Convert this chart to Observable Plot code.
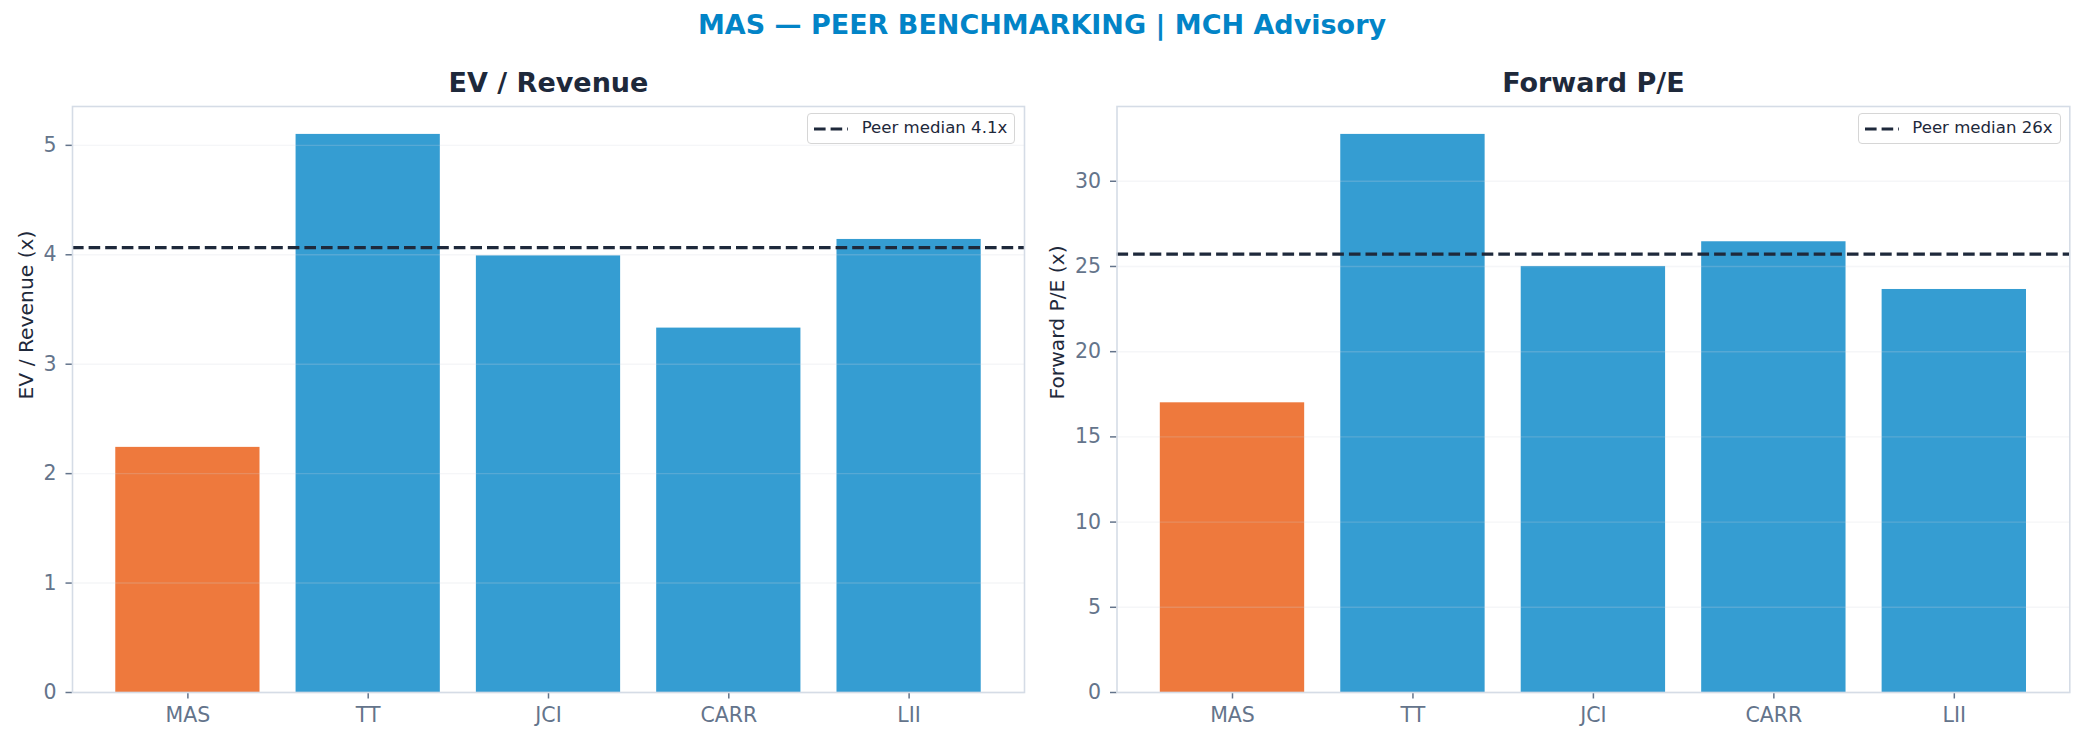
<!DOCTYPE html>
<html>
<head>
<meta charset="utf-8">
<script src="https://cdn.jsdelivr.net/npm/d3@7"></script>
<script src="https://cdn.jsdelivr.net/npm/@observablehq/plot@0.6"></script>
<style>
  html, body { margin: 0; padding: 0; background: #ffffff; }
  #wrap { position: relative; width: 2084px; height: 742px; overflow: hidden; font-family: "DejaVu Sans", sans-serif; }
  #title { position: absolute; left: 0; top: 10px; width: 2084px; text-align: center; font-size: 27px; line-height: 30px; font-weight: bold; color: #0284c7; z-index: 3; }
  .panel { position: absolute; top: 50px; width: 1042px; height: 692px; }
  .panel svg { display: block; }
  .panel g[aria-label="y-axis tick"] *, .panel g[aria-label="x-axis tick"] * { stroke-width: 1.5px; }
  .legend { position: absolute; top: 63.3px; height: 30.7px; box-sizing: border-box; display: flex; align-items: center;
            padding: 0 7px 0 6px; border: 1.3px solid #d6d6d6; border-radius: 4px; background: rgba(255,255,255,0.85);
            font-size: 16.6px; line-height: 1; color: #1e293b; z-index: 2; }
  .legend svg { display: block; margin-right: 13.7px; }
</style>
</head>
<body>
<div id="wrap">
  <div id="title"></div>
</div>
<script>
// ---- data ----
const chartTitle = "MAS — PEER BENCHMARKING | MCH Advisory";
const tickers = ["MAS", "TT", "JCI", "CARR", "LII"];
const focusTicker = "MAS";
const evRevenue = [2.24, 5.10, 3.99, 3.33, 4.14];
const forwardPE = [17.0, 32.75, 25.0, 26.45, 23.65];
const evTicks = [0, 1, 2, 3, 4, 5];
const peTicks = [0, 5, 10, 15, 20, 25, 30];
const panelTitles = ["EV / Revenue", "Forward P/E"];
const yLabels = ["EV / Revenue (x)", "Forward P/E (x)"];
const medianDigits = [1, 0];

// ---- styles ----
const BLUE = "#0284c7", ORANGE = "#ea580c", DARK = "#1e293b", SLATE = "#64748b";

document.getElementById("title").textContent = chartTitle;
const wrap = document.getElementById("wrap");

function panel({left, ml, mr, labelX, title, yLabel, values, ticks, digits}) {
  const data = tickers.map((t, i) => ({ticker: t, value: values[i]}));
  const med = d3.median(data.filter(d => d.ticker !== focusTicker), d => d.value);
  const ymax = d3.max(values) * 1.05;
  const plot = Plot.plot({
    width: 1042, height: 692,
    marginLeft: ml, marginRight: mr, marginTop: 56, marginBottom: 50,
    style: {fontFamily: "DejaVu Sans", fontSize: "20.5px", color: SLATE, background: "transparent", overflow: "visible"},
    x: {type: "band", domain: tickers, paddingInner: 0.2, paddingOuter: 0.24, round: false, label: null, tickSize: 6.5, tickPadding: 8.8},
    y: {domain: [0, ymax], ticks: ticks, tickFormat: "d", tickSize: 6.5, tickPadding: 9.5, label: null},
    color: {type: "identity"},
    marks: [
      Plot.barY(data, {x: "ticker", y: "value", fill: d => d.ticker === focusTicker ? ORANGE : BLUE, fillOpacity: 0.8}),
      Plot.ruleY(ticks, {stroke: "#d0d7df", strokeOpacity: 0.22, strokeWidth: 1.4}),
      Plot.ruleY([med], {stroke: DARK, strokeWidth: 3.1, strokeDasharray: "11.6,5"}),
      Plot.frame({stroke: "#d5dce6", strokeWidth: 1.6}),
      Plot.text([title], {frameAnchor: "top", dy: -14.3, lineAnchor: "bottom", fontSize: 27, fontWeight: "bold", fill: DARK}),
      Plot.text([yLabel], {frameAnchor: "left", dx: labelX - ml, rotate: -90, fontSize: 20.3, fill: DARK})
    ]
  });
  const div = document.createElement("div");
  div.className = "panel";
  div.style.left = left + "px";
  div.appendChild(plot);
  const leg = document.createElement("div");
  leg.className = "legend";
  leg.style.right = (mr + 8.7) + "px";
  leg.innerHTML = `<svg width="34" height="8"><line x1="0" x2="34" y1="4" y2="4" stroke="${DARK}" stroke-width="3.1" stroke-dasharray="11.6,5"/></svg><span>Peer median ${med.toFixed(digits)}x</span>`;
  div.appendChild(leg);
  wrap.appendChild(div);
}

panel({left: 0, ml: 72, mr: 18, labelX: 25.8, title: panelTitles[0], yLabel: yLabels[0], values: evRevenue, ticks: evTicks, digits: medianDigits[0]});
panel({left: 1042, ml: 74.5, mr: 14.7, labelX: 14.8, title: panelTitles[1], yLabel: yLabels[1], values: forwardPE, ticks: peTicks, digits: medianDigits[1]});
</script>
</body>
</html>
